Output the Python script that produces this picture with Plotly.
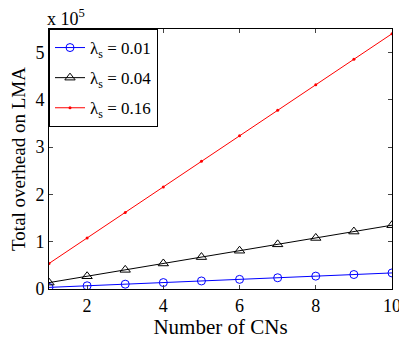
import plotly.graph_objects as go

cns = [1, 2, 3, 4, 5, 6, 7, 8, 9, 10]
lam_001 = [0.034, 0.068, 0.102, 0.136, 0.17, 0.204, 0.238, 0.272, 0.306, 0.34]
lam_004 = [0.135, 0.27, 0.405, 0.54, 0.675, 0.81, 0.945, 1.08, 1.215, 1.35]
lam_016 = [0.54, 1.08, 1.62, 2.16, 2.7, 3.24, 3.78, 4.32, 4.86, 5.4]
scale = 1e5
y_ticks = [0, 1, 2, 3, 4, 5]
x_ticks = [2, 4, 6, 8, 10]

fig = go.Figure()
fig.add_trace(go.Scatter(x=cns, y=[v * scale for v in lam_001], mode="lines+markers",
                         name="λ<sub>s</sub> = 0.01", legendgroup="a",
                         line=dict(color="blue", width=1),
                         marker=dict(symbol="circle-open", size=8, color="blue", line=dict(width=1))))
fig.add_trace(go.Scatter(x=cns, y=[v * scale for v in lam_004], mode="lines+markers",
                         name="λ<sub>s</sub> = 0.04", legendgroup="b",
                         line=dict(color="black", width=1),
                         marker=dict(symbol="triangle-up-open", size=9, color="black", line=dict(width=1))))
fig.add_trace(go.Scatter(x=cns, y=[v * scale for v in lam_016], mode="lines+markers",
                         name="λ<sub>s</sub> = 0.16", legendgroup="c",
                         line=dict(color="red", width=1),
                         marker=dict(symbol="circle", size=3, color="red")))

font = "Liberation Serif"
fig.update_layout(
    width=399, height=339,
    margin=dict(l=49, r=7, t=29, b=50),
    paper_bgcolor="white", plot_bgcolor="white",
    font=dict(family=font, size=18, color="black"),
    showlegend=True,
    legend=dict(x=0, y=1, xanchor="left", yanchor="top", bgcolor="white",
                bordercolor="black", borderwidth=1, font=dict(family=font, size=17),
                tracegroupgap=5, itemwidth=30),
    xaxis=dict(range=[1, 10], tickvals=x_ticks, ticks="inside", ticklen=4,
               tickfont=dict(family=font, size=18), ticklabeloverflow="allow",
               automargin=False,
               showline=True, linecolor="black", linewidth=1, mirror="ticks",
               showgrid=False, zeroline=False,
               title=dict(text="Number of CNs", font=dict(family=font, size=21), standoff=0)),
    yaxis=dict(range=[0, 5.5e5], tickvals=[t * scale for t in y_ticks],
               ticktext=[str(t) for t in y_ticks], ticks="inside", ticklen=4,
               tickfont=dict(family=font, size=18), automargin=False,
               showline=True, linecolor="black", linewidth=1, mirror="ticks",
               showgrid=False, zeroline=False,
               title=dict(text="Total overhead on LMA", font=dict(family=font, size=19), standoff=4)),
    annotations=[dict(text="x 10<sup>5</sup>", x=0, y=1, xref="paper", yref="paper",
                      xanchor="left", yanchor="bottom", showarrow=False,
                      font=dict(family=font, size=18), xshift=-4, yshift=-2)],
)
fig.write_html("out.html", config={"displayModeBar": False},
               post_script="document.body.style.margin='0';document.body.style.overflow='hidden';")
